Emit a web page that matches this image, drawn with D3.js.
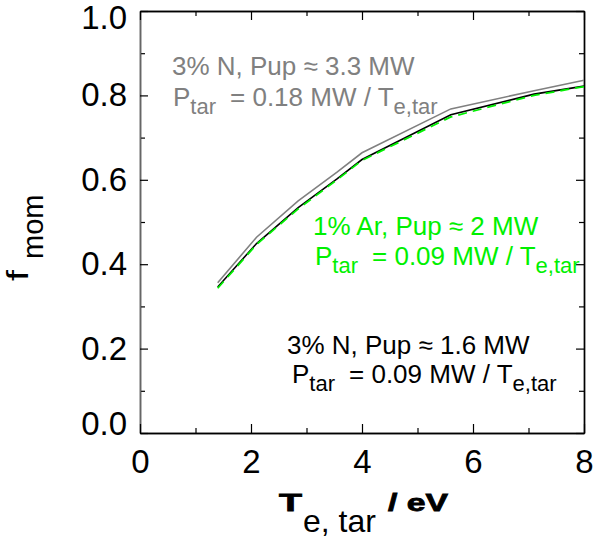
<!DOCTYPE html>
<html>
<head>
<meta charset="utf-8">
<script src="https://cdn.jsdelivr.net/npm/d3@7"></script>
<style>
body { margin: 0; background: #fff; }
svg { display: block; font-family: "Liberation Sans", Arial, sans-serif; }
</style>
</head>
<body>
<svg id="chart" width="595" height="541"></svg>
<script>
// T_e,tar in eV
var teTar = [1.4, 2.1, 2.85, 3.55, 4.0, 5.6, 7.1, 8.0];
// f_mom for each case
var fmomN33 = [0.356, 0.464, 0.550, 0.618, 0.664, 0.768, 0.811, 0.836];
var fmomN16 = [0.346, 0.449, 0.534, 0.602, 0.648, 0.754, 0.803, 0.822];
var fmomAr = [0.343, 0.447, 0.531, 0.600, 0.646, 0.749, 0.800, 0.821];

var xMajor = [0, 2, 4, 6, 8];
var xMinor = [1, 3, 5, 7];
var yMajor = [0, 0.2, 0.4, 0.6, 0.8, 1.0];
var yMinor = [0.1, 0.3, 0.5, 0.7, 0.9];

var noteLine1 = ["3% N, Pup \u2248 3.3 MW", "1% Ar, Pup \u2248 2 MW", "3% N, Pup \u2248 1.6 MW"];
var noteCoef = ["0.18", "0.09", "0.09"];

function drawChart() {
    var svg = d3.select("#chart");
    var left = 140, top = 11, right = 584, bottom = 433;

    var x = d3.scaleLinear().domain([0, 8]).range([left, right]);
    var y = d3.scaleLinear().domain([0, 1]).range([bottom, top]);

    // minor ticks, all four sides
    svg.append("g").attr("transform", "translate(" + left + ",0)")
        .call(d3.axisLeft(y).tickValues(yMinor).tickSize(-5).tickSizeOuter(0).tickFormat(""));
    svg.append("g").attr("transform", "translate(" + right + ",0)")
        .call(d3.axisRight(y).tickValues(yMinor).tickSize(-5).tickSizeOuter(0).tickFormat(""));
    svg.append("g").attr("transform", "translate(0," + bottom + ")")
        .call(d3.axisBottom(x).tickValues(xMinor).tickSize(-5).tickSizeOuter(0).tickFormat(""));
    svg.append("g").attr("transform", "translate(0," + top + ")")
        .call(d3.axisTop(x).tickValues(xMinor).tickSize(-5).tickSizeOuter(0).tickFormat(""));

    // major ticks
    var yAxis = svg.append("g").attr("class", "yaxis")
        .attr("transform", "translate(" + left + ",0)")
        .call(d3.axisLeft(y).tickValues(yMajor).tickSize(-8).tickSizeOuter(0)
            .tickPadding(13).tickFormat(d3.format(".1f")));
    svg.append("g").attr("transform", "translate(" + right + ",0)")
        .call(d3.axisRight(y).tickValues(yMajor).tickSize(-8).tickSizeOuter(0).tickFormat(""));
    var xAxis = svg.append("g").attr("class", "xaxis")
        .attr("transform", "translate(0," + bottom + ")")
        .call(d3.axisBottom(x).tickValues(xMajor).tickSize(-9).tickSizeOuter(0)
            .tickPadding(17).tickFormat(d3.format("d")));
    svg.append("g").attr("transform", "translate(0," + top + ")")
        .call(d3.axisTop(x).tickValues(xMajor).tickSize(-9).tickSizeOuter(0).tickFormat(""));

    svg.selectAll(".domain").attr("stroke", "#000").attr("stroke-width", 1.4);
    svg.selectAll(".tick line").attr("stroke", "#000").attr("stroke-width", 1.2);
    svg.selectAll(".yaxis .domain").attr("stroke", "#666");

    yAxis.selectAll("text")
        .attr("font-size", 33).attr("fill", "#000")
        .attr("font-family", "Liberation Sans, Arial, sans-serif")
        .attr("dy", d => d === 1 ? "0.53em" : d === 0 ? "0.06em" : "0.32em");
    xAxis.selectAll("text")
        .attr("font-size", 33).attr("fill", "#000")
        .attr("font-family", "Liberation Sans, Arial, sans-serif");

    // curves
    var line = d3.line().x(d => x(d[0])).y(d => y(d[1]));

    svg.append("path")
        .datum(d3.zip(teTar, fmomN33))
        .attr("d", line)
        .attr("fill", "none")
        .attr("stroke", "#808080")
        .attr("stroke-width", 1.6);

    svg.append("path")
        .datum(d3.zip(teTar, fmomN16))
        .attr("d", line)
        .attr("fill", "none")
        .attr("stroke", "#000")
        .attr("stroke-width", 1.6);

    svg.append("path")
        .datum(d3.zip(teTar, fmomAr))
        .attr("d", line)
        .attr("fill", "none")
        .attr("stroke", "#00f000")
        .attr("stroke-width", 1.8)
        .attr("stroke-dasharray", "9,6");

    // annotations
    var noteColor = ["#808080", "#00f000", "#000"];
    var notePos = [[172, 75, 173, 106], [313, 235, 315, 265], [287, 354, 292, 383]];

    notePos.forEach(function (p, i) {
        svg.append("text")
            .attr("x", p[0]).attr("y", p[1])
            .attr("font-size", 26)
            .attr("fill", noteColor[i])
            .text(noteLine1[i]);

        var t = svg.append("text")
            .attr("x", p[2]).attr("y", p[3])
            .attr("font-size", 26)
            .attr("fill", noteColor[i]);
        t.append("tspan").text("P");
        t.append("tspan").attr("font-size", 22).attr("dy", 8).text("tar");
        t.append("tspan").attr("dy", -8).attr("dx", 14).text("= " + noteCoef[i] + " MW / T");
        t.append("tspan").attr("font-size", 22).attr("dy", 8).text("e,tar");
    });

    // x title
    svg.append("text")
        .attr("x", 279).attr("y", 511)
        .attr("font-size", 24).attr("font-weight", "bold")
        .attr("stroke", "#000").attr("stroke-width", 0.8)
        .attr("textLength", 23).attr("lengthAdjust", "spacingAndGlyphs")
        .text("T");
    svg.append("text")
        .attr("x", 303).attr("y", 532)
        .attr("font-size", 32)
        .text("e, tar");
    svg.append("text")
        .attr("x", 388).attr("y", 511)
        .attr("font-size", 24).attr("font-weight", "bold")
        .attr("stroke", "#000").attr("stroke-width", 0.8)
        .attr("textLength", 60).attr("lengthAdjust", "spacingAndGlyphs")
        .text("/ eV");

    // y title
    var yt = svg.append("g").attr("transform", "translate(28,281) rotate(-90)");
    yt.append("text")
        .attr("x", 0).attr("y", 0)
        .attr("font-size", 29)
        .attr("textLength", 11).attr("lengthAdjust", "spacingAndGlyphs")
        .text("f");
    yt.append("text")
        .attr("x", 22).attr("y", 15)
        .attr("font-size", 29)
        .text("mom");
}

drawChart();
</script>
</body>
</html>
